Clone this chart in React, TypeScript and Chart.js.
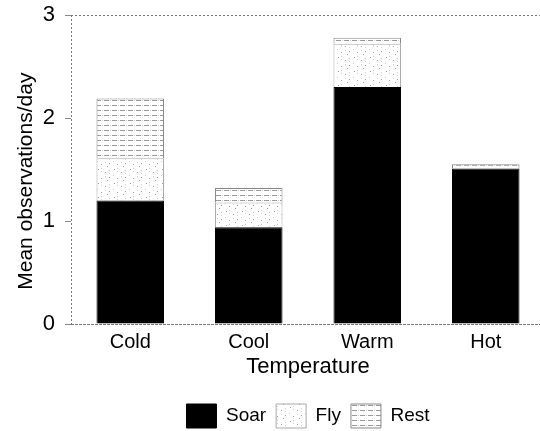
import React, { useEffect, useRef } from "react";
import { Chart, registerables } from "chart.js";

Chart.register(...registerables);

const categories = ["Cold", "Cool", "Warm", "Hot"];
const soar = [1.2, 0.94, 2.3, 1.51];
const fly = [0.41, 0.24, 0.42, 0.0];
const rest = [0.58, 0.14, 0.06, 0.04];
const yTicks = [0, 1, 2, 3];

function makeFlyPattern(): CanvasPattern | string {
  const c = document.createElement("canvas");
  c.width = 16;
  c.height = 14;
  const g = c.getContext("2d");
  if (!g) return "#fff";
  g.fillStyle = "#ffffff";
  g.fillRect(0, 0, 16, 14);
  g.fillStyle = "#a0a0a0";
  const pts = [[2, 1], [9, 4], [13, 9], [5, 10], [11, 12]];
  pts.forEach(([x, y]) => g.fillRect(x, y, 1, 1));
  g.fillStyle = "#d0d0d0";
  [[5, 0], [5, 3], [13, 2], [13, 5], [1, 7], [9, 8]].forEach(([x, y]) => g.fillRect(x, y, 1, 1));
  return g.createPattern(c, "repeat") || "#fff";
}

function makeRestPattern(): CanvasPattern | string {
  const c = document.createElement("canvas");
  c.width = 8;
  c.height = 5;
  const g = c.getContext("2d");
  if (!g) return "#eee";
  g.fillStyle = "#ffffff";
  g.fillRect(0, 0, 8, 5);
  g.fillStyle = "#999999";
  g.fillRect(0, 0, 5, 1);
  g.fillStyle = "#cccccc";
  g.fillRect(6, 0, 1, 1);
  return g.createPattern(c, "repeat") || "#eee";
}

const framePlugin = {
  id: "frame",
  afterDraw(chart: any) {
    const { ctx, chartArea } = chart;
    const { left, right, top, bottom } = chartArea;
    ctx.save();
    ctx.strokeStyle = "#777";
    ctx.lineWidth = 1;
    ctx.setLineDash([2, 2]);
    ctx.beginPath();
    ctx.moveTo(left, top + 0.5);
    ctx.lineTo(right, top + 0.5);
    ctx.moveTo(left + 0.5, top);
    ctx.lineTo(left + 0.5, bottom);
    ctx.stroke();
    ctx.setLineDash([3, 1]);
    ctx.beginPath();
    ctx.moveTo(left, bottom + 0.5);
    ctx.lineTo(right, bottom + 0.5);
    ctx.stroke();
    ctx.restore();
  },
};

export default function App() {
  const ref = useRef<HTMLCanvasElement | null>(null);

  useEffect(() => {
    if (!ref.current) return;
    const flyPat = makeFlyPattern();
    const restPat = makeRestPattern();
    const font = "'Liberation Sans', Arial, sans-serif";
    const chart = new Chart(ref.current, {
      type: "bar",
      data: {
        labels: categories,
        datasets: [
          { label: "Soar", data: soar, backgroundColor: "#000", borderColor: "#000", borderWidth: 1 },
          { label: "Fly", data: fly, backgroundColor: flyPat as any, borderColor: "#aaa", borderWidth: 1 },
          { label: "Rest", data: rest, backgroundColor: restPat as any, borderColor: "#888", borderWidth: 1 },
        ],
      },
      options: {
        responsive: false,
        animation: false,
        layout: { padding: { top: 15, right: 11, left: 0, bottom: -7 } },
        datasets: { bar: { categoryPercentage: 1, barPercentage: 0.57 } } as any,
        scales: {
          x: {
            stacked: true,
            grid: { display: false, drawTicks: false, tickLength: 0 },
            border: { display: false },
            ticks: { color: "#000", font: { family: font, size: 20 }, padding: 6 },
            title: { display: true, text: "Temperature", color: "#000", font: { family: font, size: 22 }, padding: { top: 0, bottom: 14 } },
            afterFit: (s: any) => { s.height = 70; },
          },
          y: {
            stacked: true,
            min: 0,
            max: 3,
            afterBuildTicks: (s: any) => { s.ticks = yTicks.map((v) => ({ value: v })); },
            afterFit: (s: any) => { s.width = 71; s.paddingTop = 0; s.paddingBottom = 0; },
            grid: { display: true, drawOnChartArea: false, tickLength: 6, color: "#888" },
            border: { display: false },
            ticks: { color: "#000", font: { family: font, size: 22 }, padding: 10 },
            title: { display: true, text: "Mean observations/day    ", color: "#000", font: { family: font, size: 21 }, padding: { top: 14, bottom: 4 } },
          },
        },
        plugins: {
          legend: {
            position: "bottom",
            fullSize: false,
            labels: {
              color: "#000",
              boxWidth: 30,
              boxHeight: 24,
              padding: 10,
              font: { family: font, size: 19 },
            },
          },
          tooltip: { enabled: false },
        },
      },
      plugins: [framePlugin],
    });
    return () => chart.destroy();
  }, []);

  return (
    <div style={{ position: "absolute", left: 0, top: 0, width: 540, height: 431, overflow: "hidden", background: "#fff" }}>
      <canvas ref={ref} width={556} height={431} style={{ display: "block" }} />
    </div>
  );
}
